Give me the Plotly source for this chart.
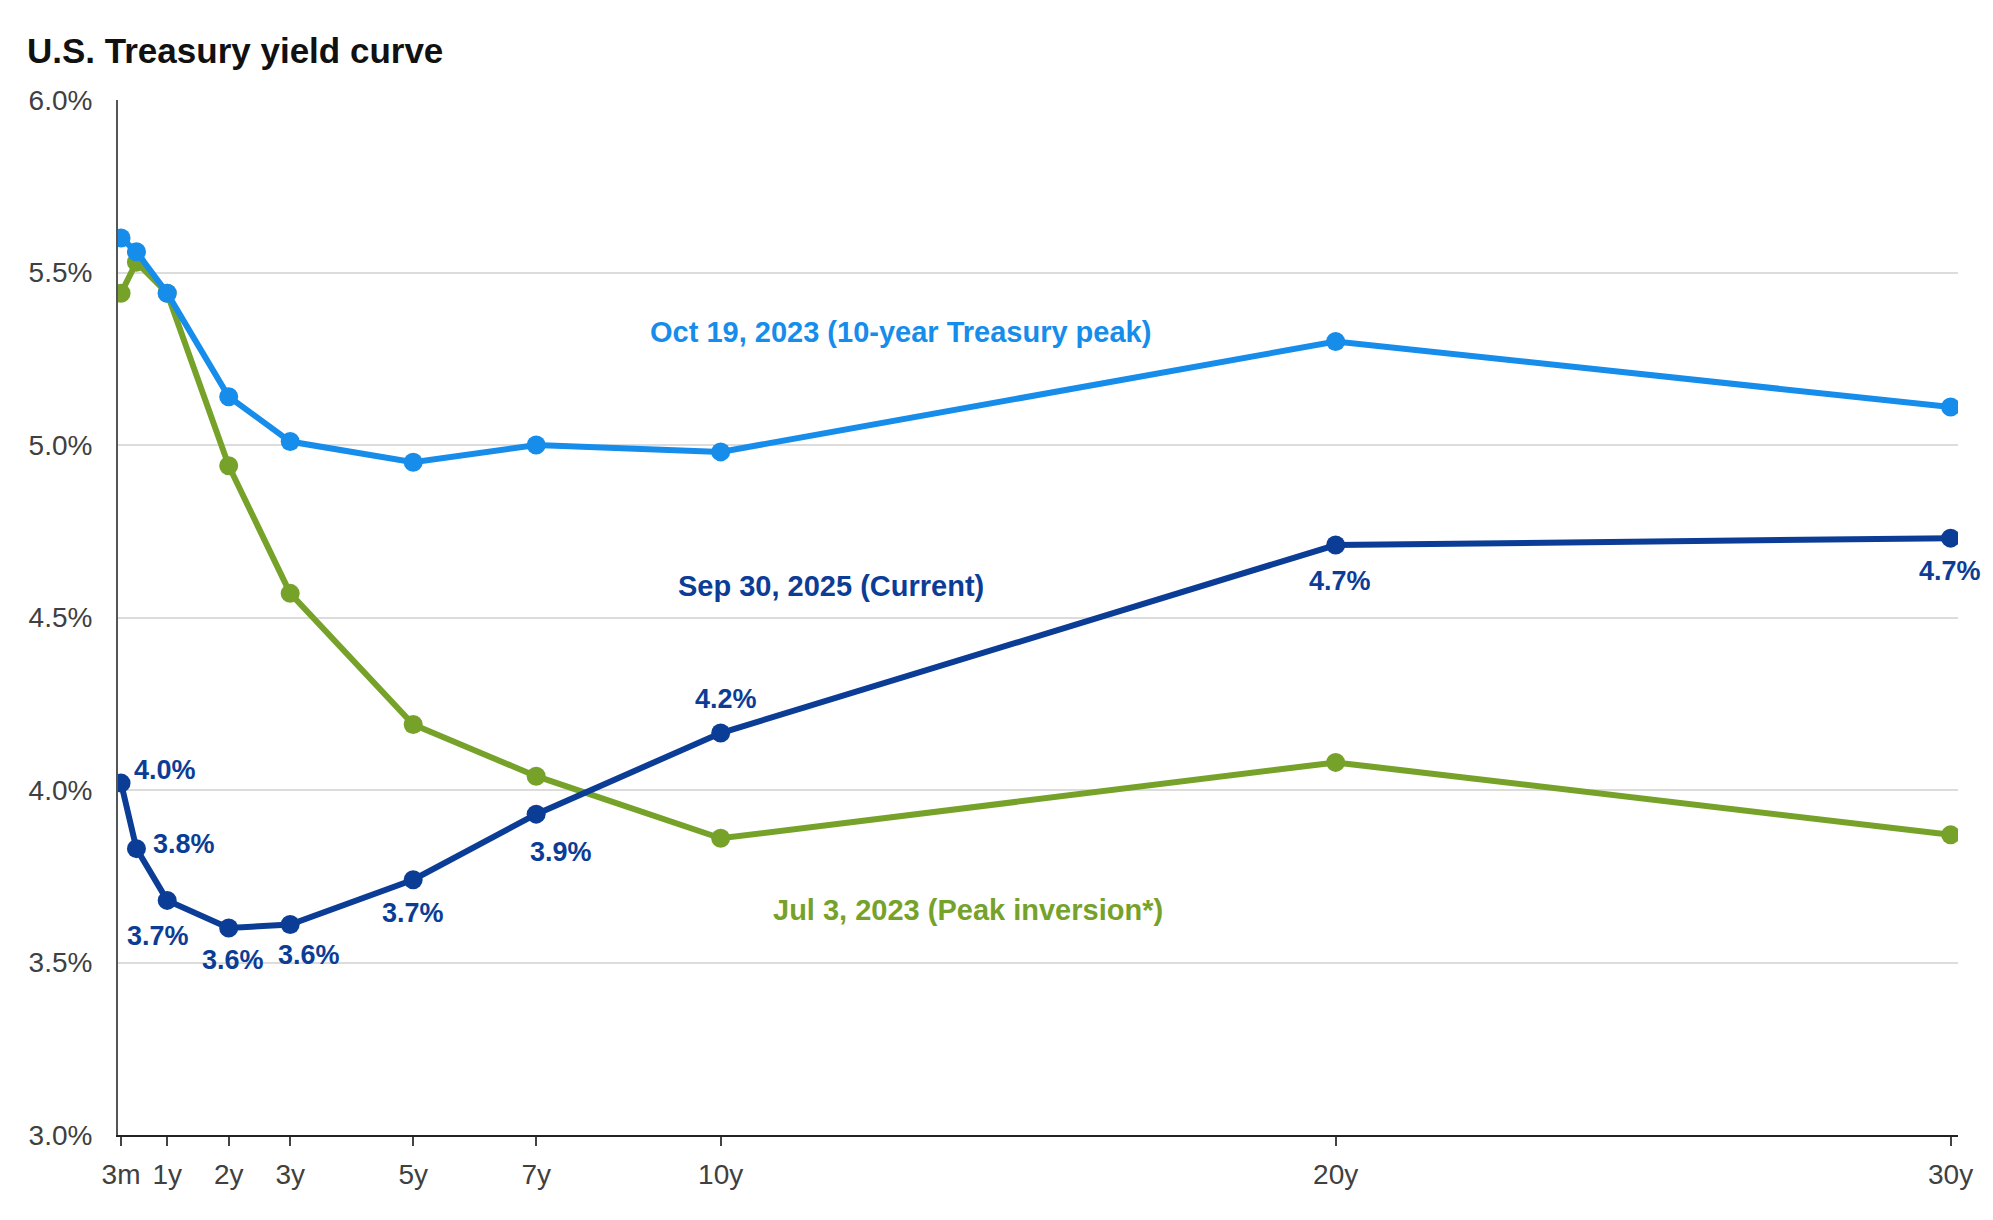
import plotly.graph_objects as go

# Maturities in years and their tick labels
maturity_years = [0.25, 0.5, 1, 2, 3, 5, 7, 10, 20, 30]
tick_values = [0.25, 1, 2, 3, 5, 7, 10, 20, 30]
tick_labels = ["3m", "1y", "2y", "3y", "5y", "7y", "10y", "20y", "30y"]

# Yields (%)
jul_3_2023 = [5.44, 5.53, 5.44, 4.94, 4.57, 4.19, 4.04, 3.86, 4.08, 3.87]
oct_19_2023 = [5.60, 5.56, 5.44, 5.14, 5.01, 4.95, 5.00, 4.98, 5.30, 5.11]
sep_30_2025 = [4.02, 3.83, 3.68, 3.60, 3.61, 3.74, 3.93, 4.165, 4.71, 4.73]

series_names = ["Jul 3, 2023 (Peak inversion*)",
                "Oct 19, 2023 (10-year Treasury peak)",
                "Sep 30, 2025 (Current)"]

GREEN = "#76a22a"
LIGHT = "#168ceb"
DARK = "#0c3d96"
FONT = "Liberation Sans, Arial, sans-serif"

fig = go.Figure()
for vals, color, name in [(jul_3_2023, GREEN, series_names[0]),
                          (oct_19_2023, LIGHT, series_names[1]),
                          (sep_30_2025, DARK, series_names[2])]:
    fig.add_trace(go.Scatter(
        x=maturity_years, y=vals, mode="lines+markers", name=name,
        line=dict(color=color, width=6),
        marker=dict(color=color, size=19),
        showlegend=False, hoverinfo="x+y"))

# Data labels for current curve (offsets in px)
label_offsets = [(44, 13), (48, 5), (-9, -36), (4, -32), (19, -30),
                 (0, -33), (25, -38), (5, 34), (4, -36), (-1, -33)]
for x, v, (dx, dy) in zip(maturity_years, sep_30_2025, label_offsets):
    fig.add_annotation(x=x, y=v, text=f"<b>{v:.1f}%</b>", showarrow=False,
                       xshift=dx, yshift=dy, xanchor="center", yanchor="middle",
                       font=dict(family=FONT, size=27, color=DARK))

# Series labels
for (x, y), name, color in [((14.02, 3.652), series_names[0], GREEN),
                            ((12.93, 5.329), series_names[1], LIGHT),
                            ((11.8, 4.592), series_names[2], DARK)]:
    fig.add_annotation(x=x, y=y, text=f"<b>{name}</b>", showarrow=False,
                       xanchor="center", yanchor="middle",
                       font=dict(family=FONT, size=29, color=color))

W, H = 1977, 1204
fig.update_layout(
    width=W, height=H,
    margin=dict(l=110, r=20, t=92, b=77),
    paper_bgcolor="white", plot_bgcolor="white",
    font=dict(family=FONT, color="#404040"),
    title=dict(text="<b>U.S. Treasury yield curve</b>", xref="container", yref="container",
               x=19 / W, y=1 - 43 / H, xanchor="left", yanchor="middle",
               font=dict(family=FONT, size=35, color="#111111")),
)
fig.update_xaxes(range=[0.2, 30.12], tickmode="array", tickvals=tick_values,
                 ticktext=tick_labels, showgrid=False, zeroline=False,
                 showline=True, linecolor="#222222", linewidth=2,
                 ticks="outside", ticklen=9, tickwidth=2, tickcolor="#444444",
                 ticklabelstandoff=4,
                 tickfont=dict(family=FONT, size=28, color="#404040"))
fig.update_yaxes(range=[3.0, 6.0], dtick=0.5, tick0=3.0, tickformat=".1f", ticksuffix="%",
                 showgrid=True, gridcolor="#dcdcdc", gridwidth=2, zeroline=False,
                 showline=True, linecolor="#555555", linewidth=2,
                 ticks="", ticklabelstandoff=18,
                 tickfont=dict(family=FONT, size=28, color="#404040"))

fig.write_html("out.html")
